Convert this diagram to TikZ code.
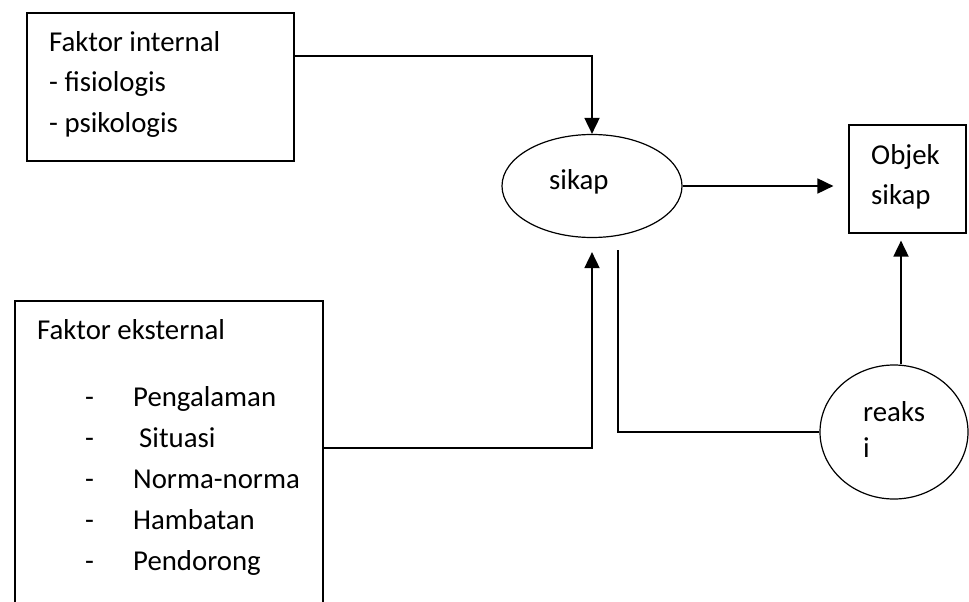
\documentclass[tikz,border=0pt]{standalone}
\usepackage{fontspec}
\setmainfont{Carlito}
\usetikzlibrary{arrows.meta,shapes.geometric}
\begin{document}
\begin{tikzpicture}[x=1pt,y=-1pt,
  box/.style={draw, line width=1.2pt, rectangle, inner sep=0pt},
  oval/.style={draw, line width=1.2pt, ellipse, inner sep=0pt},
  txt/.style={inner sep=0pt, anchor=base west, font=\fontsize{28.8}{35}\selectfont},
  arr/.style={line width=1.8pt, -{Triangle[length=16pt,width=15pt]}},
  link/.style={line width=1.2pt}]
\useasboundingbox (0,0) rectangle (969,602);

% Faktor internal
\node[box, minimum width=267pt, minimum height=148pt] (int) at (160.5,87) {};
\node[txt] (int1) at (49,52) {Faktor internal};
\node[txt] (int2) at (49,92) {- fisiologis};
\node[txt] (int3) at (49,132) {- psikologis};

% Faktor eksternal (bottom edge runs off the page)
\node[box, minimum width=308pt, minimum height=303pt] (ext) at (169,452.5) {};
\node[txt] (ext0) at (37,339) {Faktor eksternal};
\node[txt] (d1) at (85,406) {-};
\node[txt] (d2) at (85,447) {-};
\node[txt] (d3) at (85,488) {-};
\node[txt] (d4) at (85,529) {-};
\node[txt] (d5) at (85,570) {-};
\node[txt] (e1) at (133,406) {Pengalaman};
\node[txt] (e2) at (139,447) {Situasi};
\node[txt] (e3) at (133,488) {Norma-norma};
\node[txt] (e4) at (133,529) {Hambatan};
\node[txt] (e5) at (133,570) {Pendorong};

% sikap
\node[oval, minimum width=180pt, minimum height=103pt] (sikap) at (592,186) {};
\node[txt] (sikapt) at (549,189) {sikap};

% Objek sikap
\node[box, minimum width=117pt, minimum height=108pt] (obj) at (907.5,179) {};
\node[txt] (obj1) at (871,164) {Objek};
\node[txt] (obj2) at (871,204) {sikap};

% reaksi
\node[oval, minimum width=148pt, minimum height=134pt] (reaksi) at (894,432) {};
\node[txt] (r1) at (863,421) {reaks};
\node[txt] (r2) at (863,457) {i};

% connectors
\draw[arr] ([yshift=31pt]int.east) -| (sikap.north);
\draw[arr] ([yshift=4.5pt]ext.east) -| ([yshift=-14pt]sikap.south);
\coordinate (objtip) at ([xshift=-15pt]obj.west);
\draw[arr] (sikap.east) -- (sikap.east -| objtip);
\coordinate (rtop) at ([xshift=7pt]reaksi.north);
\coordinate (obot) at ([yshift=-7pt]obj.south);
\draw[arr] (rtop) -- (rtop |- obot);
\draw[link] ([xshift=26pt,yshift=-12pt]sikap.south) |- (reaksi.west);
\end{tikzpicture}
\end{document}
